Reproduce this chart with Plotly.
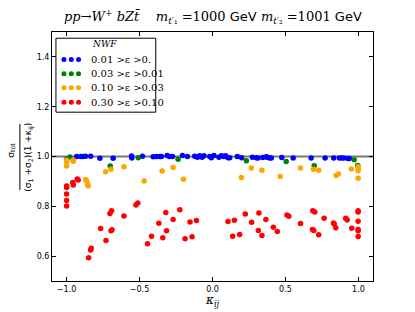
import plotly.graph_objects as go

# ---- data ----
blue_x = [-0.931, -0.902, -0.886, -0.870, -0.835, -0.772, -0.681, -0.555, -0.553, -0.480,
          -0.407, -0.384, -0.361, -0.350, -0.311, -0.297, -0.274, -0.206, -0.172, -0.122,
          -0.103, -0.088, -0.072, -0.058, -0.019, -0.008, 0.010, 0.044, 0.061, 0.077,
          0.090, 0.106, 0.118, 0.170, 0.200, 0.273, 0.300, 0.311, 0.345, 0.369,
          0.375, 0.391, 0.403, 0.475, 0.553, 0.676, 0.772, 0.831, 0.870, 0.886,
          0.899, 0.927, 0.938]
blue_y = [1.000, 1.000, 1.000, 1.001, 1.001, 0.993, 0.993, 1.002, 0.994, 1.001,
          0.999, 1.000, 1.000, 1.000, 1.004, 1.000, 1.000, 1.004, 1.000, 1.001,
          0.997, 1.003, 0.997, 1.003, 1.000, 0.995, 1.004, 0.997, 1.003, 1.000,
          1.003, 0.995, 0.995, 1.000, 0.995, 0.997, 0.995, 0.994, 0.996, 0.999,
          0.997, 0.994, 0.994, 0.996, 0.994, 0.994, 0.994, 0.994, 0.994, 0.994,
          0.994, 0.992, 0.992]

green_x = [-1.000, -0.977, -0.701, -0.509, -0.236, 0.232, 0.505, 0.697, 0.971, 0.995]
green_y = [0.989, 0.998, 0.962, 0.995, 0.989, 0.983, 0.980, 0.963, 0.987, 0.964]

orange_x = [-1.000, -1.000, -1.000, -0.954, -0.954, -0.869, -0.862, -0.856, -0.852, -0.733,
            -0.696, -0.607, -0.469, -0.345, -0.270, -0.199, 0.198, 0.266, 0.339, 0.464,
            0.603, 0.692, 0.728, 0.847, 0.863, 0.952, 0.998, 0.998, 0.998, 0.998]
orange_y = [0.985, 0.979, 0.962, 0.985, 0.981, 0.908, 0.901, 0.888, 0.882, 0.939,
            0.949, 0.959, 0.902, 0.942, 0.956, 0.909, 0.916, 0.954, 0.945, 0.920,
            0.954, 0.949, 0.945, 0.924, 0.930, 0.950, 0.959, 0.951, 0.943, 0.913]

red_x = [-1.000, -1.000, -0.958, -0.954, -0.927, -0.920, -1.000, -1.000, -1.000, -0.767,
         -0.730, -0.703, -0.692, -0.696, -0.689, -0.607, -0.525, -0.512, -0.831, -0.835,
         -0.849, -0.445, -0.418, -0.368, -0.341, -0.320, -0.315, -0.270, -0.224, -0.188,
         -0.154, -0.140, -0.110, 0.106, 0.138, 0.150, 0.186, 0.225, 0.268, 0.318,
         0.366, 0.314, 0.339, 0.417, 0.444, 0.510, 0.523, 0.603, 0.687, 0.701,
         0.685, 0.694, 0.728, 0.765, 0.829, 0.834, 0.845, 0.913, 0.923, 0.954,
         0.998, 0.998, 0.998, 0.998, 0.998, 0.998]
red_y = [0.882, 0.876, 0.896, 0.886, 0.910, 0.906, 0.849, 0.823, 0.801, 0.711,
         0.663, 0.771, 0.782, 0.702, 0.706, 0.761, 0.805, 0.813, 0.632, 0.624,
         0.593, 0.650, 0.680, 0.732, 0.674, 0.775, 0.702, 0.747, 0.786, 0.670,
         0.737, 0.678, 0.743, 0.739, 0.680, 0.744, 0.687, 0.769, 0.736, 0.773,
         0.747, 0.703, 0.683, 0.716, 0.699, 0.765, 0.760, 0.731, 0.782, 0.777,
         0.707, 0.703, 0.686, 0.752, 0.733, 0.729, 0.714, 0.752, 0.745, 0.712,
         0.782, 0.777, 0.740, 0.707, 0.702, 0.679]

series_names = ["0.01 >\u03b5 >0.", "0.03 >\u03b5 >0.01", "0.10 >\u03b5 >0.03", "0.30 >\u03b5 >0.10"]
series_colors = ["#0000ff", "#008000", "#ffa500", "#ff0000"]

x_ticks = [-1.0, -0.5, 0.0, 0.5, 1.0]
x_ticklabels = ["\u22121.0", "\u22120.5", "0.0", "0.5", "1.0"]
y_ticks = [0.6, 0.8, 1.0, 1.2, 1.4]
y_ticklabels = ["0.6", "0.8", "1.0", "1.2", "1.4"]

fig = go.Figure()
all_x = [blue_x, green_x, orange_x, red_x]
all_y = [blue_y, green_y, orange_y, red_y]
for xs, ys, name, col in zip(all_x, all_y, series_names, series_colors):
    fig.add_trace(go.Scatter(x=xs, y=ys, mode="markers", name=name, showlegend=False,
                             marker=dict(color=col, size=5.5, line=dict(width=0))))

# horizontal reference line at 1.0
fig.add_shape(type="line", xref="paper", x0=0, x1=1, yref="y", y0=1.0, y1=1.0,
              line=dict(color="#7a7a7a", width=2), layer="below")

# ---- custom legend (matplotlib style, 3 scatter points per entry) ----
fig.add_shape(type="rect", xref="x", yref="y", x0=-1.073, x1=-0.389, y0=1.178, y1=1.475,
              line=dict(color="black", width=1), fillcolor="white", layer="above")
fig.add_annotation(x=-0.737, y=1.450, xref="x", yref="y", text="<i>NWF</i>", showarrow=False,
                   font=dict(family="DejaVu Serif", size=9, color="black"))
row_y = [1.390, 1.332, 1.276, 1.218]
dot_x = [-1.018, -0.968, -0.918]
for ry, name, col in zip(row_y, series_names, series_colors):
    for dx in dot_x:
        fig.add_shape(type="circle", xref="x", yref="y", xsizemode="pixel", ysizemode="pixel",
                      xanchor=dx, yanchor=ry, x0=-2.5, x1=2.5, y0=-2.5, y1=2.5,
                      fillcolor=col, line=dict(width=0), layer="above")
    fig.add_annotation(x=-0.845, y=ry, xref="x", yref="y", text=name, showarrow=False,
                       xanchor="left", font=dict(family="DejaVu Serif", size=10, color="black"))

# ---- title ----
fig.add_annotation(x=0.5, y=1.0, xref="paper", yref="paper", yshift=4, yanchor="bottom",
                   showarrow=False,
                   text=("<i>pp</i>\u2192<i>W</i><sup>+</sup> <i>bZ</i><i>t\u0304</i>"
                         "&nbsp;&nbsp;&nbsp;&nbsp;<i>m</i><sub><i>t</i>\u2032\u2081</sub> =1000 "
                         "<span style='font-family:DejaVu Sans'>GeV</span> "
                         "<i>m</i><sub><i>t</i>\u2032\u2082</sub> =1001 "
                         "<span style='font-family:DejaVu Sans'>GeV</span>"),
                   font=dict(family="DejaVu Serif", size=13, color="black"))

# ---- y-axis title as a fraction ----
fig.add_annotation(x=-0.104, y=1.0 + (156 - 150) / 252.5, xref="paper", yref="y",
                   xanchor="right", text="\u03c3<sub>tot</sub>", textangle=-90, showarrow=False,
                   font=dict(family="DejaVu Sans", size=9, color="black"))
fig.add_annotation(x=-0.096, y=1.0 + (156 - 157) / 252.5, xref="paper", yref="y",
                   xanchor="left",
                   text="(\u03c3<sub>1</sub> +\u03c3<sub>2</sub>)(1 +\u03ba<sub>ij</sub>)",
                   textangle=-90, showarrow=False,
                   font=dict(family="DejaVu Sans", size=9, color="black"))
fig.add_shape(type="line", xref="paper", yref="y", x0=-0.1, x1=-0.1,
              y0=1.0 + (156 - 123) / 252.5, y1=1.0 + (156 - 190) / 252.5,
              line=dict(color="black", width=1))

# ---- x-axis title ----
fig.add_annotation(x=0.5, y=0, xref="paper", yref="paper", yshift=-10, yanchor="top",
                   text="<i>\u03ba<sub>ij</sub></i>", showarrow=False,
                   font=dict(family="DejaVu Serif", size=12, color="black"))

fig.update_layout(
    width=415, height=312,
    margin=dict(l=52, r=42, t=32, b=31),
    paper_bgcolor="white", plot_bgcolor="white",
    showlegend=False,
    xaxis=dict(range=[-1.1, 1.1], tickvals=x_ticks, ticktext=x_ticklabels,
               ticks="inside", ticklen=4, tickcolor="black", showgrid=False, zeroline=False,
               showline=True, linecolor="black", linewidth=1, mirror="allticks",
               tickfont=dict(family="DejaVu Sans", size=8, color="black")),
    yaxis=dict(range=[0.5, 1.5], tickvals=y_ticks, ticktext=y_ticklabels,
               ticks="inside", ticklen=4, tickcolor="black", showgrid=False, zeroline=False,
               showline=True, linecolor="black", linewidth=1, mirror="allticks",
               tickfont=dict(family="DejaVu Sans", size=8, color="black")),
)

fig.write_html("out.html", config={"displayModeBar": False},
               post_script="document.body.style.margin='0';document.body.style.overflow='hidden';")
